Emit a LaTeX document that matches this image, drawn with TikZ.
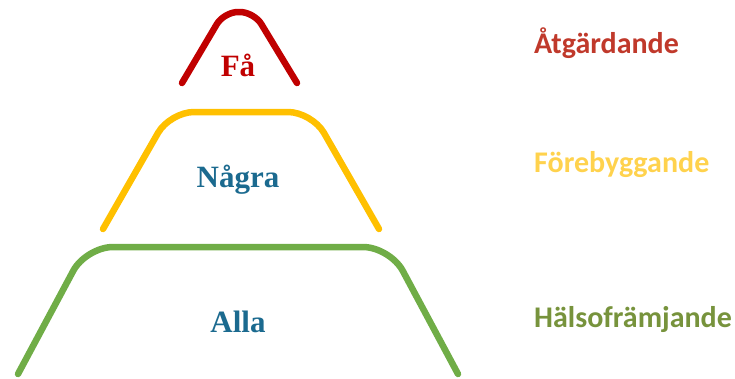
\documentclass[tikz,border=0pt]{standalone}
\usepackage{fontspec}
\setmainfont{Liberation Serif}
\newfontfamily\labfont{Carlito}
\definecolor{cred}{HTML}{C00000}
\definecolor{cyel}{HTML}{FFC000}
\definecolor{cgrn}{HTML}{70AD47}
\definecolor{cblue}{HTML}{1B6A8F}
\definecolor{tred}{HTML}{C0392B}
\definecolor{tyel}{HTML}{FFD24D}
\definecolor{tgrn}{HTML}{77933C}
\begin{document}
\begin{tikzpicture}[x=1pt,y=-1pt,
  tier/.style={line width=6.5pt,line cap=round,line join=round},
  lvl/.style={anchor=base,font=\fontsize{31}{36}\selectfont\bfseries,text=cblue,inner sep=0pt},
  side/.style={anchor=base west,font=\labfont\fontsize{30}{35}\selectfont\bfseries,inner sep=0pt}]
\useasboundingbox (0,0) rectangle (735,378);
\draw[tier,cred,rounded corners=14pt] (182,83) -- (224,12) -- (254,12) -- (297,83);
\draw[tier,cyel,rounded corners=24pt] (103,229) -- (170,112) -- (312,112) -- (379,229);
\draw[tier,cgrn,rounded corners=27pt] (18,374) -- (86,247) -- (390,247) -- (458,374);
\node[lvl,text=cred] (fa) at (238,76) {Få};
\node[lvl] (nagra) at (238,187) {Några};
\node[lvl] (alla) at (238,332) {Alla};
\node[side,text=tred] (atg) at (534,53) {Åtgärdande};
\node[side,text=tyel] (fore) at (534,172) {Förebyggande};
\node[side,text=tgrn] (hals) at (534,327) {Hälsofrämjande};
\end{tikzpicture}
\end{document}
